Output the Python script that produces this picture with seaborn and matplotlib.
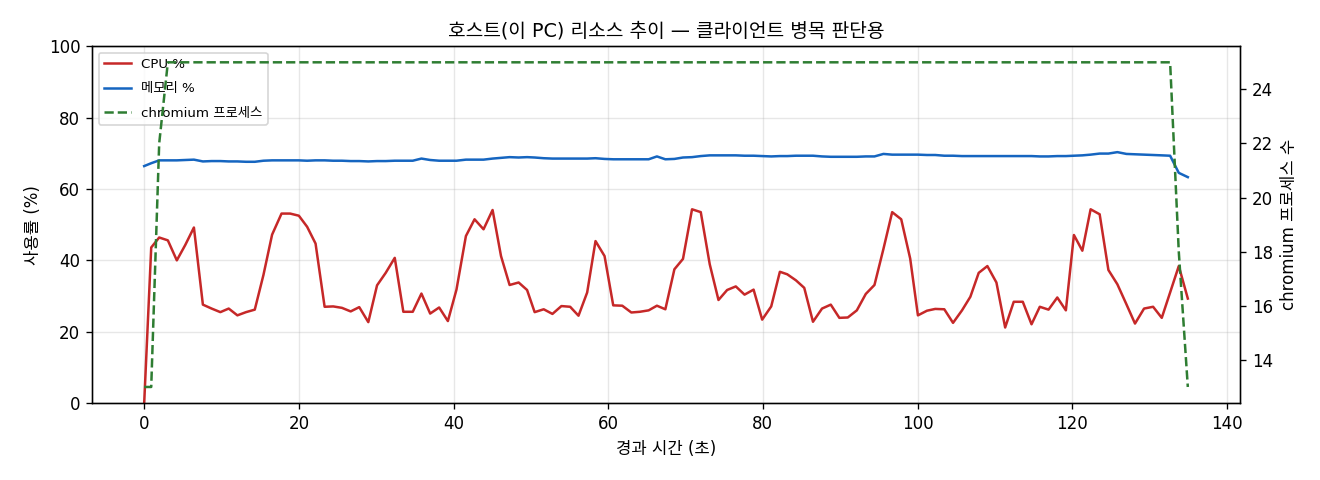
import numpy as np
import pandas as pd
import seaborn as sns
import matplotlib
matplotlib.use('Agg')
import matplotlib.pyplot as plt

# elapsed seconds
elapsed = [0.0, 0.91, 1.94, 3.06, 4.22, 5.31, 6.43, 7.59, 8.72, 9.85,
           10.93, 12.05, 13.17, 14.30, 15.42, 16.54, 17.76, 18.87, 20.00, 21.07,
           22.16, 23.33, 24.44, 25.57, 26.70, 27.81, 28.98, 30.11, 31.23, 32.40,
           33.51, 34.73, 35.85, 36.98, 38.14, 39.27, 40.38, 41.60, 42.72, 43.88,
           45.05, 46.14, 47.25, 48.42, 49.51, 50.49, 51.66, 52.79, 53.95, 55.08,
           56.16, 57.28, 58.36, 59.53, 60.65, 61.82, 62.99, 64.10, 65.23, 66.30,
           67.39, 68.56, 69.67, 70.84, 71.97, 73.13, 74.26, 75.38, 76.50, 77.63,
           78.80, 79.91, 81.08, 82.20, 83.15, 84.28, 85.35, 86.48, 87.65, 88.78,
           89.89, 90.98, 92.15, 93.31, 94.43, 95.59, 96.72, 97.89, 99.05, 100.05,
           101.22, 102.29, 103.46, 104.59, 105.75, 106.83, 107.91, 109.03, 110.20, 111.33,
           112.44, 113.61, 114.74, 115.81, 116.94, 118.07, 119.18, 120.22, 121.31, 122.38,
           123.55, 124.68, 125.84, 127.01, 128.12, 129.29, 130.46, 131.58, 132.66, 133.78,
           134.95]

cpu = [0.0, 43.6, 46.4, 45.6, 40.0, 44.3, 49.2, 27.6, 26.5, 25.5,
       26.5, 24.6, 25.5, 26.2, 35.9, 47.2, 53.1, 53.1, 52.5, 49.4,
       44.7, 27.0, 27.1, 26.7, 25.7, 26.9, 22.7, 33.0, 36.5, 40.7,
       25.6, 25.6, 30.7, 25.1, 26.8, 23.0, 31.8, 46.8, 51.5, 48.7,
       54.1, 41.2, 33.1, 33.8, 31.7, 25.5, 26.3, 25.0, 27.2, 27.0,
       24.5, 31.0, 45.4, 41.2, 27.4, 27.3, 25.4, 25.6, 26.0, 27.3,
       26.3, 37.5, 40.4, 54.3, 53.5, 38.9, 28.9, 31.7, 32.7, 30.4,
       31.8, 23.4, 27.1, 36.8, 36.1, 34.4, 32.3, 22.8, 26.5, 27.6,
       23.9, 24.0, 26.0, 30.6, 33.1, 43.2, 53.5, 51.5, 40.5, 24.6,
       25.9, 26.4, 26.3, 22.5, 26.0, 29.8, 36.5, 38.4, 33.8, 21.2,
       28.4, 28.4, 22.1, 27.0, 26.2, 29.6, 26.0, 47.1, 42.7, 54.3,
       52.9, 37.3, 33.3, 27.7, 22.3, 26.5, 27.0, 23.9, 31.0, 38.4,
       29.3]

mem = [66.4, 67.2, 68.0, 68.0, 68.0, 68.1, 68.2, 67.7, 67.8, 67.8,
       67.7, 67.7, 67.6, 67.6, 67.9, 68.0, 68.0, 68.0, 68.0, 67.9,
       68.0, 68.0, 67.9, 67.9, 67.8, 67.8, 67.7, 67.8, 67.8, 67.9,
       67.9, 67.9, 68.5, 68.1, 67.9, 67.9, 67.9, 68.2, 68.2, 68.2,
       68.5, 68.7, 68.9, 68.8, 68.9, 68.8, 68.6, 68.5, 68.5, 68.5,
       68.5, 68.5, 68.6, 68.4, 68.3, 68.3, 68.3, 68.3, 68.3, 69.1,
       68.3, 68.4, 68.8, 68.9, 69.2, 69.4, 69.4, 69.4, 69.4, 69.3,
       69.3, 69.2, 69.1, 69.2, 69.2, 69.3, 69.3, 69.3, 69.1, 69.0,
       69.0, 69.0, 69.0, 69.1, 69.1, 69.8, 69.6, 69.6, 69.6, 69.6,
       69.5, 69.5, 69.3, 69.3, 69.2, 69.2, 69.2, 69.2, 69.2, 69.2,
       69.2, 69.2, 69.2, 69.1, 69.1, 69.2, 69.2, 69.3, 69.4, 69.6,
       69.9, 69.9, 70.3, 69.8, 69.7, 69.6, 69.5, 69.4, 69.3, 64.5,
       63.3]

chromium = [13, 13, 22] + [25] * 116 + [18, 13]

df = pd.DataFrame({'t': elapsed, 'cpu': cpu, 'mem': mem, 'chromium': chromium})

# Latin in DejaVu (wide digits like the original), Korean falls back to Noto CJK
plt.rcParams['font.family'] = ['DejaVu Sans', 'Noto Sans CJK KR']
plt.rcParams['axes.unicode_minus'] = False

fig, ax = plt.subplots(figsize=(11, 4), dpi=120)

sns.lineplot(data=df, x='t', y='cpu', color='#c62828', linewidth=1.5, label='CPU %', ax=ax)
sns.lineplot(data=df, x='t', y='mem', color='#1565c0', linewidth=1.5, label='메모리 %', ax=ax)
ax.set_ylim(0, 100)
ax.set_xlabel('경과 시간 (초)', fontsize=10)
ax.set_ylabel('사용률 (%)', fontsize=10)
ax.grid(True, alpha=0.3)

ax2 = ax.twinx()
sns.lineplot(data=df, x='t', y='chromium', color='#2e7d32', linewidth=1.5,
             linestyle='--', label='chromium 프로세스', ax=ax2)
ax2.set_ylabel('chromium 프로세스 수', fontsize=10)

# one legend for both axes
h1, l1 = ax.get_legend_handles_labels()
h2, l2 = ax2.get_legend_handles_labels()
ax2.get_legend().remove()
ax.legend(h1 + h2, l1 + l2, loc='upper left', fontsize=8, labelspacing=0.85)

ax.set_title('호스트(이 PC) 리소스 추이 — 클라이언트 병목 판단용', fontsize=11.5)

fig.subplots_adjust(left=0.0697, right=0.9394, top=0.904, bottom=0.160)
plt.savefig('out.png')
